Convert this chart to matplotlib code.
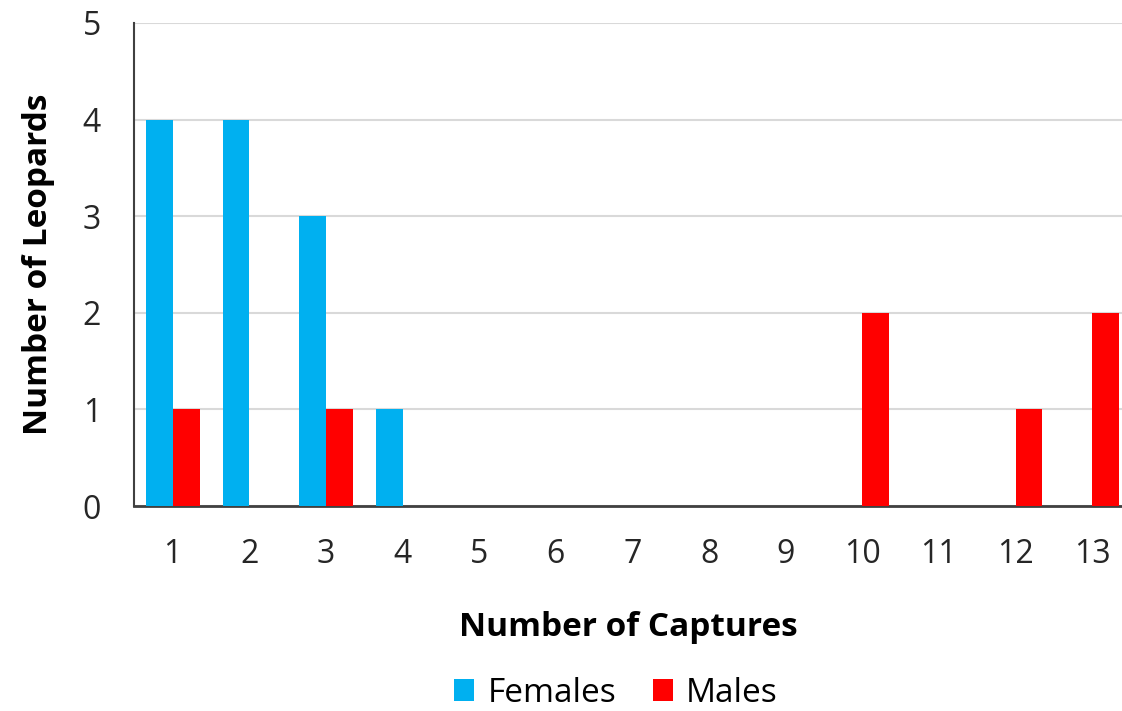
import matplotlib
matplotlib.use("Agg")
import matplotlib.pyplot as plt
import numpy as np

captures = ["1", "2", "3", "4", "5", "6", "7", "8", "9", "10", "11", "12", "13"]
females = [4, 4, 3, 1, 0, 0, 0, 0, 0, 0, 0, 0, 0]
males = [1, 0, 1, 0, 0, 0, 0, 0, 0, 2, 0, 1, 2]

plt.rcParams['font.family'] = ['Open Sans', 'DejaVu Sans']

fig = plt.figure(figsize=(11.22, 7.11), dpi=100)
ax = fig.add_axes([0.1198, 0.2883, 0.8802, 0.6794])

x = np.arange(len(captures))
w = 0.35
ax.bar(x - w / 2, females, w, color='#00B0F0', label='Females', zorder=3)
ax.bar(x + w / 2, males, w, color='#FF0000', label='Males', zorder=3)

ax.set_xlim(-0.5, 12.39)
ax.set_ylim(0, 5)
ax.set_yticks(range(6))
ax.set_xticks(x)
ax.set_xticklabels(captures)
ax.yaxis.grid(True, color='#D9D9D9', linewidth=1.5, zorder=0)
ax.tick_params(axis='both', length=0, labelsize=23, colors='#262626')
ax.tick_params(axis='x', pad=23)
ax.tick_params(axis='y', pad=24)

for s in ['top', 'right']:
    ax.spines[s].set_visible(False)
ax.spines['left'].set_color('#404040')
ax.spines['left'].set_linewidth(1.5)
ax.spines['bottom'].set_color('#404040')
ax.spines['bottom'].set_linewidth(2)

ax.set_xlabel('Number of Captures', fontsize=24, fontweight='bold', labelpad=29)
ax.set_ylabel('Number of Leopards', fontsize=24, fontweight='bold', labelpad=20)

fig.legend(loc='center', bbox_to_anchor=(0.549, 0.025), ncol=2, frameon=False,
           fontsize=24, handlelength=0.6, handleheight=0.6, handletextpad=0.4,
           columnspacing=1.1)

fig.savefig('out.png', dpi=100)
